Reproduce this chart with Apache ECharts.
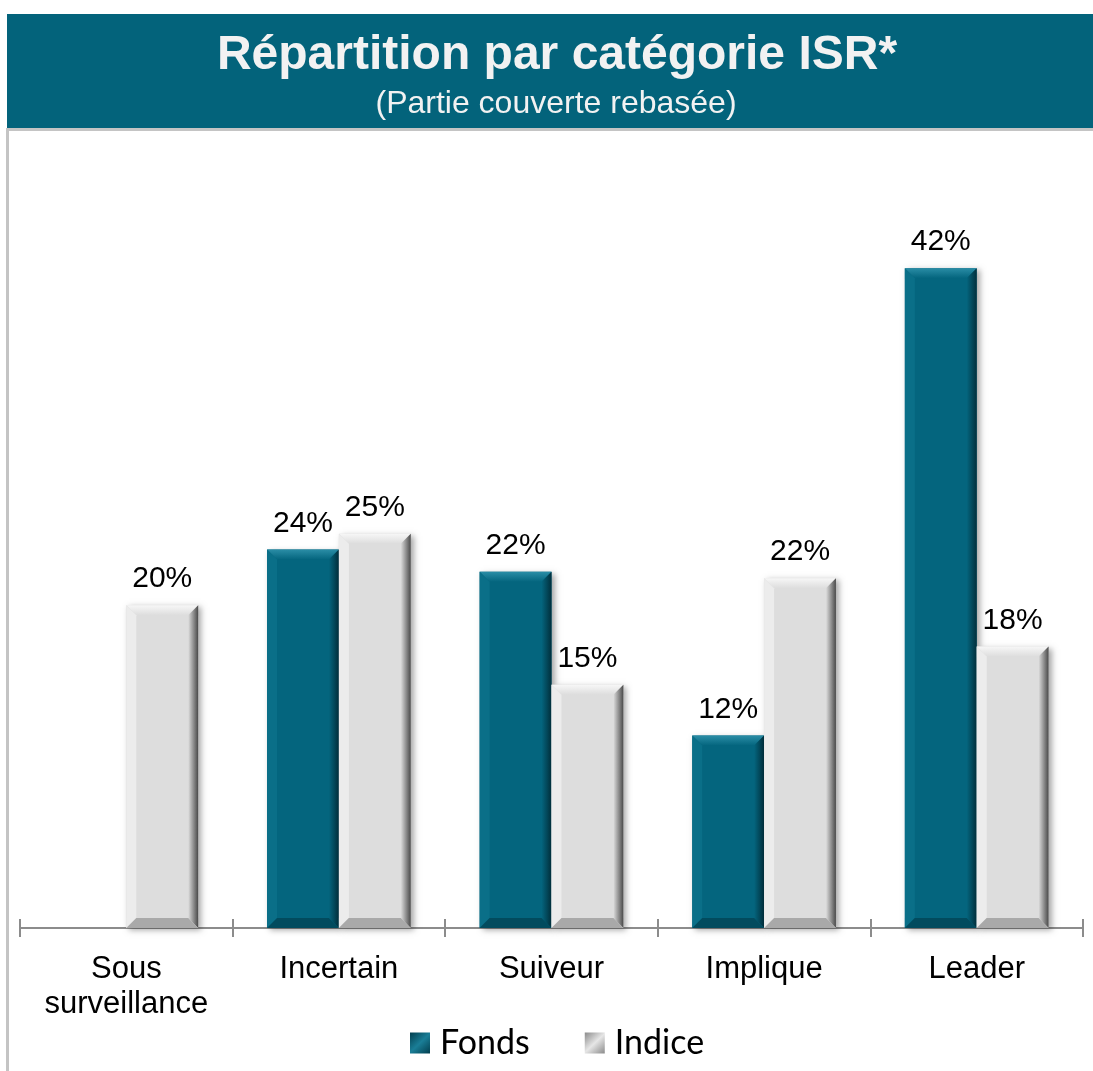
<!DOCTYPE html>
<html>
<head>
<meta charset="utf-8">
<script src="https://cdn.jsdelivr.net/npm/echarts@6/dist/echarts.min.js"></script>
<style>
html,body{margin:0;padding:0;background:#fff;}
#chart{width:1093px;height:1071px;}
</style>
</head>
<body>
<div id="chart"></div>
<script>
const categories = ['Sous\nsurveillance', 'Incertain', 'Suiveur', 'Implique', 'Leader'];
const fondsValues = [null, 23.8, 22.4, 12.1, 41.5];
const indiceValues = [20.3, 24.8, 15.3, 22.0, 17.7];
const titleText = 'Répartition par catégorie ISR*';
const subtitleText = '(Partie couverte rebasée)';

const TEAL = {main:'#04657E', top:'#2A8DA6', left:'#0A6F88', right:'#012F3C', bottom:'#024B5E'};
const GREY = {main:'#DDDDDD', top:'#F7F7F7', left:'#ECECEC', right:'#4A4A4A', bottom:'#A9A9A9'};

function bevelRenderer(pal, side) {
  return function (params, api) {
    const v = api.value(1);
    if (v == null || isNaN(v)) return null;
    const cat = api.value(0);
    const base = api.coord([cat, 0]);
    const topP = api.coord([cat, v]);
    const band = api.size([1, 0])[0];
    const w = band * 0.338;
    const x0 = side < 0 ? base[0] - w : base[0];
    const x1 = x0 + w;
    const y0 = topP[1];
    const y1 = base[1];
    const b = 10;
    const shape = (pts) => ({points: pts});
    return {
      type: 'group',
      children: [
        {type:'rect', shape:{x:x0, y:y0, width:w, height:y1-y0},
         style:{fill:pal.main, shadowBlur:6, shadowOffsetX:3, shadowOffsetY:2, shadowColor:'rgba(0,0,0,0.35)'}},
        {type:'polygon', shape:shape([[x0,y0],[x1,y0],[x1-b,y0+b],[x0+b,y0+b]]),
         style:{fill:new echarts.graphic.LinearGradient(0,0,0,1,[{offset:0,color:pal.top},{offset:1,color:pal.main}])}},
        {type:'polygon', shape:shape([[x0,y0],[x0+b,y0+b],[x0+b,y1-b],[x0,y1]]),
         style:{fill:pal.left}},
        {type:'polygon', shape:shape([[x1,y0],[x1,y1],[x1-b,y1-b],[x1-b,y0+b]]),
         style:{fill:new echarts.graphic.LinearGradient(0,0,1,0,[{offset:0,color:pal.main},{offset:1,color:pal.right}])}},
        {type:'polygon', shape:shape([[x0,y1],[x0+b,y1-b],[x1-b,y1-b],[x1,y1]]),
         style:{fill:pal.bottom}},
        {type:'text', x:(x0+x1)/2, y:y0-11,
         style:{text:Math.round(v)+'%', fill:'#000', font:'30px "Liberation Sans", Arial, sans-serif', align:'center', verticalAlign:'bottom'}}
      ]
    };
  };
}

function legendFill(a, b) {
  return new echarts.graphic.LinearGradient(0,0,1,1,[{offset:0,color:a},{offset:0.5,color:b},{offset:1,color:a}]);
}

const chart = echarts.init(document.getElementById('chart'), null, {renderer:'canvas'});
chart.setOption({
  animation:false,
  backgroundColor:'#fff',
  graphic:[
    {type:'rect', left:7, top:14, shape:{width:1086, height:114}, style:{fill:'#03637B'}},
    {type:'rect', left:7, top:128, shape:{width:1086, height:3}, style:{fill:'#C4C4C4'}},
    {type:'rect', left:6, top:128, shape:{width:3, height:943}, style:{fill:'#C4C4C4'}},
    {type:'text', x:557, y:56, style:{text:titleText, fill:'#F2F2F2', font:'bold 48px "Liberation Sans", Arial, sans-serif', align:'center', verticalAlign:'middle'}},
    {type:'text', x:556, y:104, style:{text:subtitleText, fill:'#F2F2F2', font:'32px "Liberation Sans", Arial, sans-serif', align:'center', verticalAlign:'middle'}}
  ],
  grid:{left:20, right:10, top:133, bottom:143, containLabel:false},
  legend:{
    left:405, top:1021, itemWidth:20, itemHeight:21, itemGap:55, icon:'rect',
    textStyle:{fontFamily:'Lato, "Open Sans", sans-serif', fontSize:34, color:'#000', padding:[0,0,0,5]},
    data:['Fonds','Indice']
  },
  xAxis:[
    {type:'category', data:categories, boundaryGap:true,
     axisLine:{lineStyle:{color:'#8C8C8C', width:2}},
     axisTick:{show:true, length:9, lineStyle:{color:'#8C8C8C', width:2}},
     axisLabel:{fontFamily:'"Liberation Sans", Arial, sans-serif', fontSize:31, color:'#000', margin:24, lineHeight:35, interval:0}},
    {type:'category', data:categories, boundaryGap:true, position:'bottom',
     axisLine:{show:false},
     axisTick:{show:true, inside:true, length:9, lineStyle:{color:'#8C8C8C', width:2}},
     axisLabel:{show:false}}
  ],
  yAxis:{type:'value', min:0, max:50, show:false, splitLine:{show:false}},
  series:[
    {name:'Fonds', type:'custom', renderItem:bevelRenderer(TEAL,-1), itemStyle:{color:legendFill('#023E4E','#1A7E97')},
     data:fondsValues.map((v,i)=>[i, v]), encode:{x:0,y:1}},
    {name:'Indice', type:'custom', renderItem:bevelRenderer(GREY,1), itemStyle:{color:legendFill('#8A8A8A','#E6E6E6')},
     data:indiceValues.map((v,i)=>[i, v]), encode:{x:0,y:1}}
  ]
});
</script>
</body>
</html>
